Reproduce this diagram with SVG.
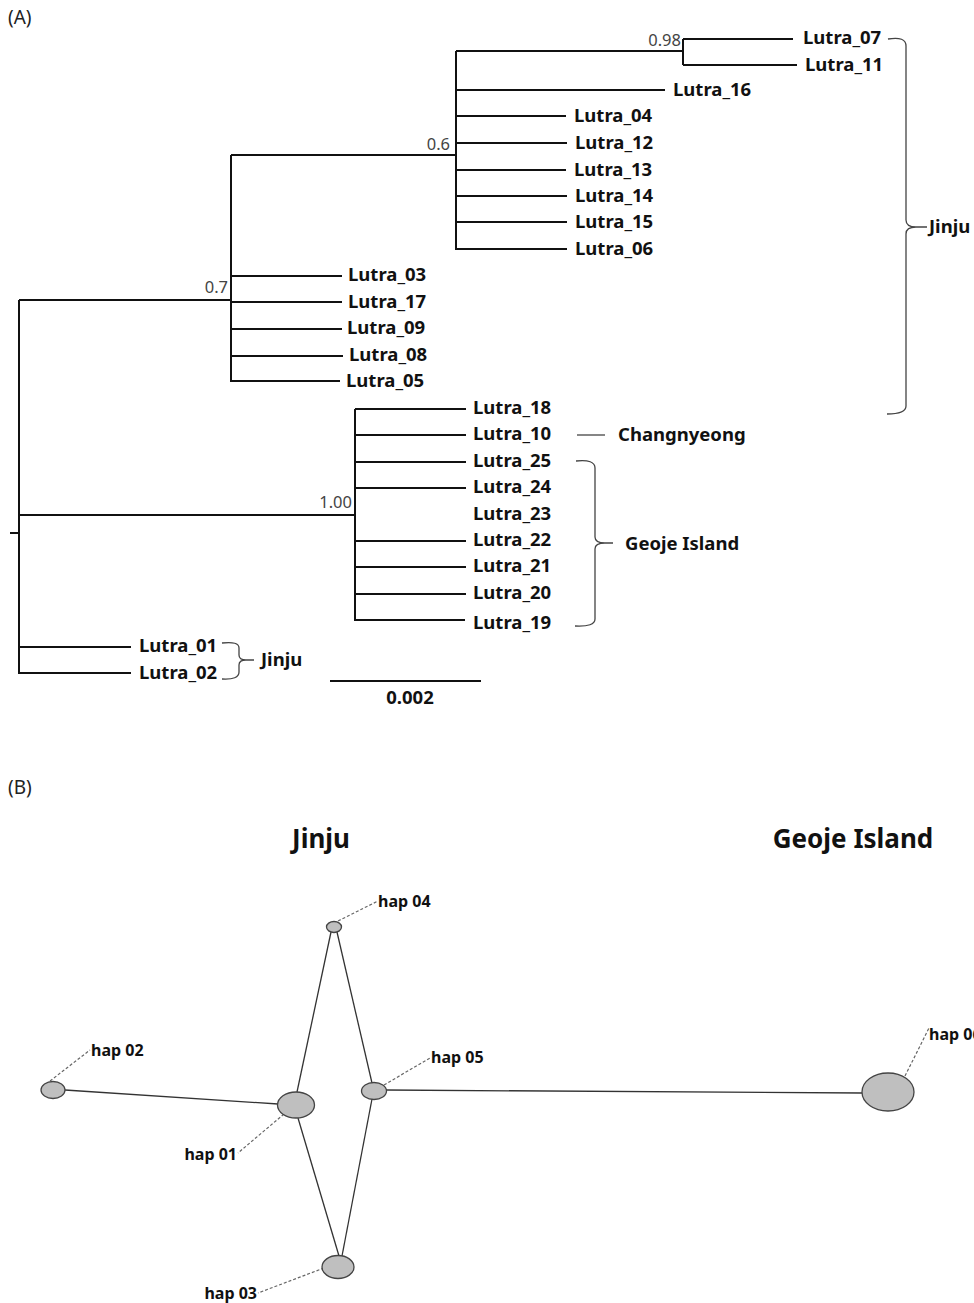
<svg xmlns="http://www.w3.org/2000/svg" width="974" height="1303" viewBox="0 0 974 1303">
<style>
text{font-family:"Noto Sans","Open Sans","Liberation Sans",sans-serif;fill:#111}
.lab{font-size:18.5px;font-weight:bold}
.sup{font-size:16.5px;fill:#444;text-anchor:end}
.pan{font-size:19px;fill:#222}
.reg{font-size:26px;font-weight:bold}
.hap{font-size:16px;font-weight:bold}
.br{fill:none;stroke:#444;stroke-width:1.3}
.tr{stroke:#111;stroke-width:2;fill:none}
.ed{stroke:#333;stroke-width:1.3;fill:none}
.ld{stroke:#666;stroke-width:1.2;stroke-dasharray:3 2;fill:none}
.nd{fill:#bfbfbf;stroke:#444;stroke-width:1.3}
</style>
<rect width="974" height="1303" fill="#fff"/>
<text class="pan" x="8" y="24">(A)</text>
<text class="pan" x="8" y="794">(B)</text>

<g id="connectors">
  <!-- tree A -->
  <g class="tr">
    <line x1="10" y1="533" x2="19" y2="533"/>
    <line x1="19" y1="300" x2="19" y2="674"/>
    <line x1="19" y1="300" x2="231" y2="300"/>
    <line x1="231" y1="155" x2="231" y2="382"/>
    <line x1="231" y1="155" x2="456" y2="155"/>
    <line x1="456" y1="51" x2="456" y2="250"/>
    <line x1="456" y1="51" x2="683" y2="51"/>
    <line x1="683" y1="39" x2="683" y2="65"/>
    <line x1="683" y1="39" x2="793" y2="39"/>
    <line x1="683" y1="65" x2="797" y2="65"/>
    <line x1="456" y1="90" x2="665" y2="90"/>
    <line x1="456" y1="116" x2="566" y2="116"/>
    <line x1="456" y1="143" x2="567" y2="143"/>
    <line x1="456" y1="170" x2="566" y2="170"/>
    <line x1="456" y1="196" x2="567" y2="196"/>
    <line x1="456" y1="222" x2="567" y2="222"/>
    <line x1="456" y1="249" x2="567" y2="249"/>
    <line x1="231" y1="276" x2="342" y2="276"/>
    <line x1="231" y1="302" x2="342" y2="302"/>
    <line x1="231" y1="329" x2="342" y2="329"/>
    <line x1="231" y1="356" x2="343" y2="356"/>
    <line x1="231" y1="381" x2="340" y2="381"/>
    <line x1="19" y1="515" x2="355" y2="515"/>
    <line x1="355" y1="409" x2="355" y2="621"/>
    <line x1="355" y1="409" x2="466" y2="409"/>
    <line x1="355" y1="435" x2="466" y2="435"/>
    <line x1="355" y1="462" x2="466" y2="462"/>
    <line x1="355" y1="488" x2="466" y2="488"/>
    <line x1="355" y1="541" x2="466" y2="541"/>
    <line x1="355" y1="567" x2="466" y2="567"/>
    <line x1="355" y1="594" x2="466" y2="594"/>
    <line x1="355" y1="620" x2="465" y2="620"/>
    <line x1="19" y1="647" x2="131" y2="647"/>
    <line x1="19" y1="673" x2="131" y2="673"/>
    <line x1="330" y1="681" x2="481" y2="681"/>
  </g>
  <!-- brackets -->
  <path class="br" d="M888,39 Q906,36 906,46 L906,220 Q906,227 916,227 Q906,227 906,234 L906,406 Q906,414 887,414 M916,227 L927,227"/>
  <path class="br" d="M576,461 Q595,459 595,468 L595,537 Q595,543 605,543 Q595,543 595,549 L595,619 Q595,627 575,626 M605,543 L613,543"/>
  <path class="br" d="M222,643 Q239,641 239,648 L239,655 Q239,660 246,660 Q239,660 239,665 L239,672 Q239,680 222,679 M246,660 L254,660"/>
  <line class="br" x1="577" y1="435" x2="605" y2="435"/>
  <!-- network B edges -->
  <line class="ed" x1="65" y1="1090" x2="278" y2="1104"/>
  <line class="ed" x1="297" y1="1092" x2="331" y2="932"/>
  <line class="ed" x1="337" y1="932" x2="372" y2="1083"/>
  <line class="ed" x1="298" y1="1118" x2="339" y2="1256"/>
  <line class="ed" x1="372" y1="1099" x2="342" y2="1256"/>
  <line class="ed" x1="386" y1="1090" x2="862" y2="1093"/>
  <!-- leaders -->
  <line class="ld" x1="338" y1="921" x2="378" y2="901"/>
  <line class="ld" x1="50" y1="1081" x2="90" y2="1050"/>
  <line class="ld" x1="384" y1="1085" x2="430" y2="1058"/>
  <line class="ld" x1="284" y1="1114" x2="238" y2="1153"/>
  <line class="ld" x1="324" y1="1268" x2="258" y2="1293"/>
  <line class="ld" x1="905" y1="1076" x2="929" y2="1028"/>
</g>

<g id="support">
  <text class="sup" x="681" y="46">0.98</text>
  <text class="sup" x="450" y="150">0.6</text>
  <text class="sup" x="228" y="293">0.7</text>
  <text class="sup" x="352" y="508">1.00</text>
  <text class="lab" x="410" y="704" text-anchor="middle">0.002</text>
</g>

<g id="tips">
  <text class="lab" id="t07" x="803" y="44">Lutra_07</text>
  <text class="lab" id="t11" x="805" y="71">Lutra_11</text>
  <text class="lab" id="t16" x="673" y="96">Lutra_16</text>
  <text class="lab" id="t04" x="574" y="122">Lutra_04</text>
  <text class="lab" id="t12" x="575" y="149">Lutra_12</text>
  <text class="lab" id="t13" x="574" y="176">Lutra_13</text>
  <text class="lab" id="t14" x="575" y="202">Lutra_14</text>
  <text class="lab" id="t15" x="575" y="228">Lutra_15</text>
  <text class="lab" id="t06" x="575" y="255">Lutra_06</text>
  <text class="lab" id="t03" x="348" y="281">Lutra_03</text>
  <text class="lab" id="t17" x="348" y="308">Lutra_17</text>
  <text class="lab" id="t09" x="347" y="334">Lutra_09</text>
  <text class="lab" id="t08" x="349" y="361">Lutra_08</text>
  <text class="lab" id="t05" x="346" y="387">Lutra_05</text>
  <text class="lab" id="t18" x="473" y="414">Lutra_18</text>
  <text class="lab" id="t10" x="473" y="440">Lutra_10</text>
  <text class="lab" id="t25" x="473" y="467">Lutra_25</text>
  <text class="lab" id="t24" x="473" y="493">Lutra_24</text>
  <text class="lab" id="t23" x="473" y="520">Lutra_23</text>
  <text class="lab" id="t22" x="473" y="546">Lutra_22</text>
  <text class="lab" id="t21" x="473" y="572">Lutra_21</text>
  <text class="lab" id="t20" x="473" y="599">Lutra_20</text>
  <text class="lab" id="t19" x="473" y="629">Lutra_19</text>
  <text class="lab" id="t01" x="139" y="652">Lutra_01</text>
  <text class="lab" id="t02" x="139" y="679">Lutra_02</text>
</g>

<g id="groups">
  <text class="lab" x="929" y="233">Jinju</text>
  <text class="lab" x="618" y="441">Changnyeong</text>
  <text class="lab" x="625" y="550">Geoje Island</text>
  <text class="lab" x="261" y="666">Jinju</text>
  <text class="reg" x="321" y="848" text-anchor="middle">Jinju</text>
  <text class="reg" x="853" y="848" text-anchor="middle">Geoje Island</text>
</g>

<g id="hap04"><ellipse class="nd" cx="334" cy="927" rx="7.5" ry="5.5"/><text class="hap" x="378" y="907">hap 04</text></g>
<g id="hap02"><ellipse class="nd" cx="53" cy="1090" rx="12" ry="8.5"/><text class="hap" x="91" y="1056">hap 02</text></g>
<g id="hap01"><ellipse class="nd" cx="296" cy="1105" rx="18.5" ry="13"/><text class="hap" x="237" y="1160" text-anchor="end">hap 01</text></g>
<g id="hap05"><ellipse class="nd" cx="374" cy="1091" rx="12.5" ry="8.5"/><text class="hap" x="431" y="1063">hap 05</text></g>
<g id="hap03"><ellipse class="nd" cx="338" cy="1267" rx="16" ry="11.5"/><text class="hap" x="257" y="1299" text-anchor="end">hap 03</text></g>
<g id="hap06"><ellipse class="nd" cx="888" cy="1092" rx="26" ry="19"/><text class="hap" x="929" y="1040">hap 06</text></g>
</svg>
